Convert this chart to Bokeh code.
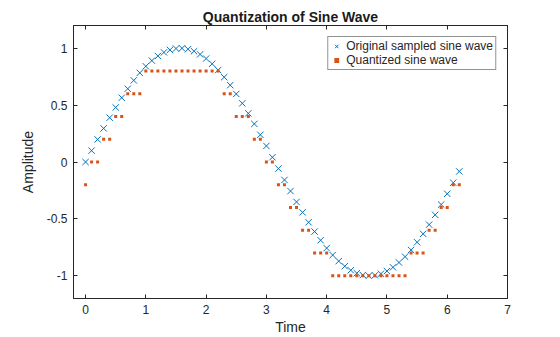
from bokeh.plotting import figure
from bokeh.models import LinearAxis, Range1d, FixedTicker, Legend, LegendItem, CustomJSTickFormatter
from bokeh.embed import file_html
from bokeh.resources import INLINE

t = [0.0, 0.1, 0.2, 0.3, 0.4, 0.5, 0.6, 0.7, 0.8, 0.9, 1.0, 1.1, 1.2, 1.3, 1.4, 1.5,
     1.6, 1.7, 1.8, 1.9, 2.0, 2.1, 2.2, 2.3, 2.4, 2.5, 2.6, 2.7, 2.8, 2.9, 3.0, 3.1,
     3.2, 3.3, 3.4, 3.5, 3.6, 3.7, 3.8, 3.9, 4.0, 4.1, 4.2, 4.3, 4.4, 4.5, 4.6, 4.7,
     4.8, 4.9, 5.0, 5.1, 5.2, 5.3, 5.4, 5.5, 5.6, 5.7, 5.8, 5.9, 6.0, 6.1, 6.2]
original = [0.0, 0.0998, 0.1987, 0.2955, 0.3894, 0.4794, 0.5646, 0.6442, 0.7174, 0.7833,
            0.8415, 0.8912, 0.9320, 0.9636, 0.9854, 0.9975, 0.9996, 0.9917, 0.9738, 0.9463,
            0.9093, 0.8632, 0.8085, 0.7457, 0.6755, 0.5985, 0.5155, 0.4274, 0.3350, 0.2392,
            0.1411, 0.0416, -0.0584, -0.1577, -0.2555, -0.3508, -0.4425, -0.5298, -0.6119,
            -0.6878, -0.7568, -0.8183, -0.8716, -0.9162, -0.9516, -0.9775, -0.9937, -0.9999,
            -0.9962, -0.9825, -0.9589, -0.9258, -0.8835, -0.8323, -0.7728, -0.7055, -0.6313,
            -0.5507, -0.4646, -0.3739, -0.2794, -0.1822, -0.0831]
quantized = [-0.2, 0.0, 0.0, 0.2, 0.2, 0.4, 0.4, 0.6, 0.6, 0.6,
             0.8, 0.8, 0.8, 0.8, 0.8, 0.8, 0.8, 0.8, 0.8, 0.8,
             0.8, 0.8, 0.8, 0.6, 0.6, 0.4, 0.4, 0.4, 0.2, 0.2,
             0.0, 0.0, -0.2, -0.2, -0.4, -0.4, -0.6, -0.6, -0.8,
             -0.8, -0.8, -1.0, -1.0, -1.0, -1.0, -1.0, -1.0, -1.0,
             -1.0, -1.0, -1.0, -1.0, -1.0, -1.0, -0.8, -0.8, -0.8,
             -0.6, -0.6, -0.4, -0.4, -0.2, -0.2]
x_ticks = [0, 1, 2, 3, 4, 5, 6, 7]
y_ticks = [-1, -0.5, 0, 0.5, 1]
y_labels = {-1: "-1", -0.5: "-0.5", 0: "0", 0.5: "0.5", 1: "1"}

FONT = "Liberation Sans"
BLUE = "#0072BD"
ORANGE = "#D95319"
INK = "#262626"

p = figure(width=560, height=337, output_backend="svg", toolbar_location=None,
           x_range=Range1d(-0.2, 7), y_range=Range1d(-1.2, 1.2),
           min_border_left=73, min_border_right=53, min_border_top=25, min_border_bottom=39,
           title="Quantization of Sine Wave")
p.title.text_font = FONT
p.title.text_font_size = "14px"
p.title.text_font_style = "bold"
p.title.align = "center"
p.title.text_color = "#1a1a1a"
p.title.offset = 40
p.title.standoff = 2
p.grid.visible = False
p.outline_line_color = INK
p.outline_line_width = 1

def style_axis(ax):
    ax.axis_line_color = INK
    ax.major_tick_line_color = INK
    ax.major_tick_in = 4
    ax.major_tick_out = 0
    ax.minor_tick_line_color = None
    ax.major_label_text_font = FONT
    ax.major_label_text_font_size = "12px"
    ax.major_label_text_color = INK
    ax.axis_label_text_font = FONT
    ax.axis_label_text_font_size = "14px"
    ax.axis_label_text_font_style = "normal"
    ax.axis_label_text_color = INK

p.xaxis.ticker = FixedTicker(ticks=x_ticks)
p.yaxis.ticker = FixedTicker(ticks=y_ticks)
p.yaxis.major_label_overrides = y_labels
p.xaxis.axis_label = "Time"
p.yaxis.axis_label = "Amplitude"
style_axis(p.xaxis[0])
style_axis(p.yaxis[0])
p.xaxis.major_label_standoff = 6
p.yaxis.major_label_standoff = 6
p.xaxis.axis_label_standoff = 2
p.yaxis.axis_label_standoff = 8

blank = CustomJSTickFormatter(code="return '';")
top = LinearAxis(ticker=FixedTicker(ticks=x_ticks), formatter=blank)
right = LinearAxis(ticker=FixedTicker(ticks=y_ticks), formatter=blank)
style_axis(top)
style_axis(right)
top.major_label_standoff = 0
right.major_label_standoff = 0
p.add_layout(top, "above")
p.add_layout(right, "right")

r1 = p.scatter(t, original, marker="x", size=9, line_color=BLUE, line_width=1)
r2 = p.scatter(t, quantized, marker="square", size=3, fill_color=ORANGE, line_color=None)

legend = Legend(items=[LegendItem(label="Original sampled sine wave", renderers=[r1]),
                       LegendItem(label="Quantized sine wave", renderers=[r2])],
                location="top_right")
legend.margin = 11
legend.padding = 2
legend.spacing = 0
legend.glyph_width = 12
legend.glyph_height = 14
legend.label_height = 14
legend.label_standoff = 4
legend.label_text_font = FONT
legend.label_text_font_size = "12px"
legend.label_text_color = INK
legend.border_line_color = INK
legend.border_line_width = 1
legend.background_fill_color = "white"
legend.background_fill_alpha = 1
p.add_layout(legend)

open("out.html", "w").write(file_html(p, INLINE))
